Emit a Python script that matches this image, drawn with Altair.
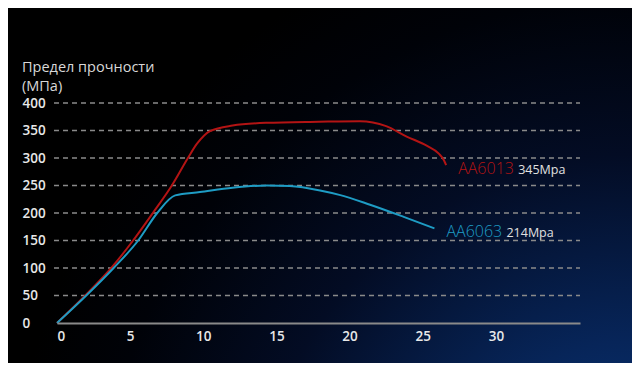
import altair as alt
import pandas as pd

# AA6013 curve (elongation %, strength MPa)
red_x = [0, 1.93, 3.71, 5.2, 6.55, 7.85, 8.95, 9.57, 10.46, 12.0, 14.3, 17.9, 20.7, 22.5, 23.9, 25.3, 26.1, 26.45, 26.6]
red_y = [0, 50, 100, 150, 200, 250, 300, 326, 349, 359, 364, 366, 367, 358, 339, 322, 308, 296, 287]
# AA6063 curve
blue_x = [0, 2.0, 3.87, 5.55, 6.85, 8.08, 9.77, 12.0, 14.35, 15.9, 17.98, 19.3, 21.4, 23.7, 25.8]
blue_y = [0, 50, 100, 150, 200, 232, 238, 246, 250, 249, 241, 233, 215, 193, 172]

series_names = ["AA6013", "AA6063"]
series_values = ["345Mpa", "214Mpa"]
series_colors = ["#b31414", "#1e9cc4"]
x_ticks = [0, 5, 10, 15, 20, 25, 30]
y_ticks = [0, 50, 100, 150, 200, 250, 300, 350, 400]
title_lines = ["Предел прочности", "(МПа)"]

rows = []
for i, (xs_, ys_) in enumerate([(red_x, red_y), (blue_x, blue_y)]):
    for k, (a, b) in enumerate(zip(xs_, ys_)):
        rows.append({"s": series_names[i], "x": a, "y": b, "o": k})
df = pd.DataFrame(rows)

ends = pd.DataFrame([
    {"s": series_names[0], "v": series_values[0], "x": red_x[-1], "y": red_y[-1]},
    {"s": series_names[1], "v": series_values[1], "x": blue_x[-1], "y": blue_y[-1]},
])
grid_df = pd.DataFrame({"y": y_ticks[1:]})

W, H = 523, 220
xs = alt.Scale(domain=[0, 35.75], nice=False)
ys = alt.Scale(domain=[0, 400], nice=False)
cs = alt.Scale(domain=series_names, range=series_colors)

x_axis = alt.Axis(
    values=x_ticks, title=None, grid=False, ticks=False,
    domain=True, domainColor="#8a8a8a", domainWidth=2,
    labelColor="#e8e8e8", labelFontSize=13.5, labelFontWeight=600,
    labelPadding=6, labelFont="Open Sans", labelOverlap=False, zindex=1)
y_axis = alt.Axis(
    values=y_ticks, title=None, grid=False, ticks=False, domain=False,
    labelColor="#e8e8e8", labelFontSize=13.5, labelFontWeight=600,
    labelAlign="left", labelPadding=35, labelFont="Open Sans",
    labelOverlap=False, zindex=1)

bg = alt.Chart(alt.Data(values=[{}])).mark_rect(
    fill={
        "gradient": "radial",
        "x1": 1, "y1": 1.05, "r1": 0,
        "x2": 1, "y2": 1.05, "r2": 1.0,
        "stops": [
            {"offset": 0, "color": "#0b3c86"},
            {"offset": 0.3, "color": "#072559"},
            {"offset": 0.6, "color": "#030c24"},
            {"offset": 0.85, "color": "#000208"},
            {"offset": 1, "color": "#000000"},
        ],
    }
).encode(
    x=alt.value(-49), x2=alt.value(W + 52), y=alt.value(-95), y2=alt.value(H + 40)
)

grid = alt.Chart(grid_df).mark_rule(
    color="#8a8a8a", strokeDash=[5, 4], strokeWidth=1.5
).encode(
    y=alt.Y("y:Q", scale=ys, axis=y_axis), x=alt.value(-3), x2=alt.value(W)
)

lines = alt.Chart(df).mark_line(strokeWidth=2, interpolate="monotone").encode(
    x=alt.X("x:Q", scale=xs, axis=x_axis),
    y=alt.Y("y:Q", scale=ys, axis=y_axis),
    color=alt.Color("s:N", scale=cs, legend=None),
    order="o:Q",
    detail="s:N",
)

name_text = alt.Chart(ends).mark_text(
    align="left", baseline="alphabetic", dx=12, dy=9, fontSize=16,
    font="Open Sans", fontWeight=300
).encode(
    x=alt.X("x:Q", scale=xs, axis=x_axis), y=alt.Y("y:Q", scale=ys, axis=y_axis),
    text="s:N", color=alt.Color("s:N", scale=cs, legend=None)
)

val_text = alt.Chart(ends).mark_text(
    align="left", baseline="alphabetic", dx=72, dy=9, fontSize=12.5,
    font="Open Sans", color="#e0e0e0"
).encode(
    x=alt.X("x:Q", scale=xs, axis=x_axis), y=alt.Y("y:Q", scale=ys, axis=y_axis),
    text="v:N"
)

t1 = alt.Chart(alt.Data(values=[{"t": title_lines[0]}])).mark_text(
    align="left", baseline="alphabetic", fontSize=14.5, font="Open Sans",
    color="#d8d8d8"
).encode(text="t:N", x=alt.value(-35), y=alt.value(-31))

t2 = alt.Chart(alt.Data(values=[{"t": title_lines[1]}])).mark_text(
    align="left", baseline="alphabetic", fontSize=14.5, font="Open Sans",
    color="#d8d8d8"
).encode(text="t:N", x=alt.value(-35), y=alt.value(-12))

chart = alt.layer(bg, grid, lines, name_text, val_text, t1, t2).properties(
    width=W, height=H,
    autosize=alt.AutoSizeParams(type="none"),
    padding={"left": 49, "top": 95, "right": 52, "bottom": 40},
    background="#000000",
).configure_view(stroke=None)

chart.save("out.html", embed_options={"renderer": "svg", "actions": False})
